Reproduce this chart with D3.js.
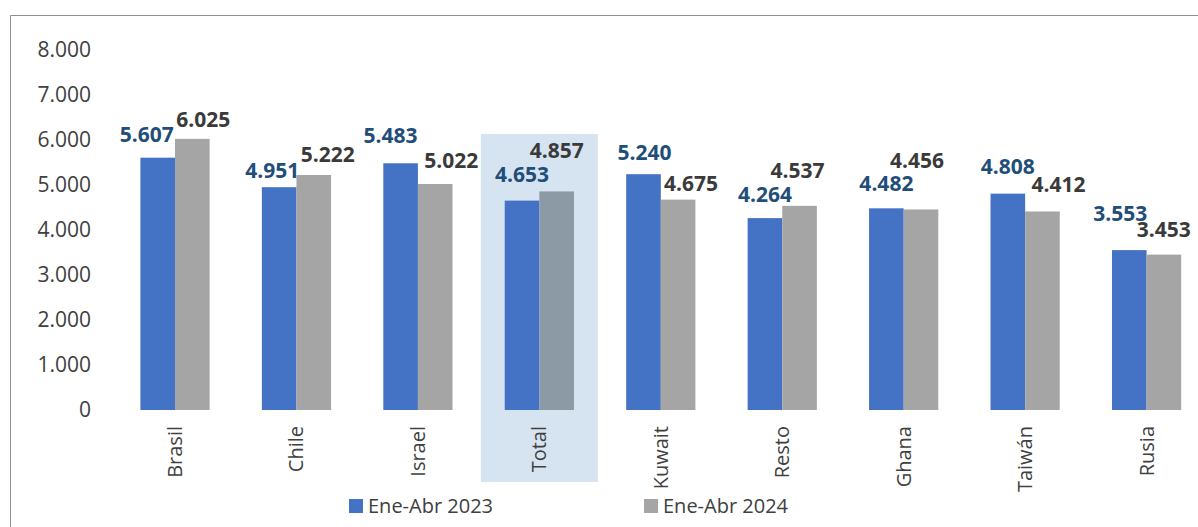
<!DOCTYPE html>
<html>
<head>
<meta charset="utf-8">
<script src="https://cdn.jsdelivr.net/npm/d3@7"></script>
<style>
  html, body { margin: 0; padding: 0; background: #fff; }
  svg { display: block; font-family: "Open Sans", sans-serif; }
</style>
</head>
<body>
<div id="chart"></div>
<script>
const categories = ['Brasil', 'Chile', 'Israel', 'Total', 'Kuwait', 'Resto', 'Ghana', 'Taiwán', 'Rusia'];
const seriesNames = ['Ene-Abr 2023', 'Ene-Abr 2024'];
const values2023 = [5607, 4951, 5483, 4653, 5240, 4264, 4482, 4808, 3553];
const values2024 = [6025, 5222, 5022, 4857, 4675, 4537, 4456, 4412, 3453];
const yTicks = [0, 1000, 2000, 3000, 4000, 5000, 6000, 7000, 8000];

// manual label nudges (dx from bar centre, dy from bar top), as placed in the original
const nudge2023 = [[-11, -23], [-7, -17], [-10, -28], [0, -26], [1, -22], [0, -24], [0, -25], [0, -27], [-9, -37]];
const nudge2024 = [[11, -19], [14, -21], [16, -24], [0, -41], [13, -16], [-2, -35], [-4, -49], [16, -27], [0, -25]];

const width = 1198, height = 527;
const highlight = 'Total';

const svg = d3.select('#chart').append('svg')
    .attr('width', width)
    .attr('height', height);

// frame (only top and left edges visible in the crop)
svg.append('line').attr('x1', 10.5).attr('x2', width).attr('y1', 15.5).attr('y2', 15.5)
    .attr('stroke', '#8f8f8f').attr('stroke-width', 1);
svg.append('line').attr('x1', 10.5).attr('x2', 10.5).attr('y1', 15.5).attr('y2', height)
    .attr('stroke', '#8f8f8f').attr('stroke-width', 1);

const x = d3.scaleBand()
    .domain(categories)
    .range([114.3, 1207.3])
    .paddingInner(0.43)
    .paddingOuter(0.215);

const xs = d3.scaleBand()
    .domain(seriesNames)
    .range([0, x.bandwidth()]);

const y = d3.scaleLinear()
    .domain([0, 8000])
    .range([410, 50]);

const locale = d3.formatLocale({ decimal: ',', thousands: '.', grouping: [3], currency: ['', ''] });
const fmt = locale.format(',d');

// highlight behind Total
const step = x.step();
svg.append('rect')
    .attr('x', x(highlight) + x.bandwidth() / 2 - step * 0.482)
    .attr('y', 134)
    .attr('width', step * 0.964)
    .attr('height', 348)
    .attr('fill', '#d6e3f0');

// y axis labels
const yAxis = svg.append('g')
    .attr('transform', 'translate(91,0)')
    .call(d3.axisLeft(y).tickValues(yTicks).tickFormat(fmt).tickSize(0).tickPadding(0));
yAxis.select('.domain').remove();
yAxis.selectAll('text')
    .attr('font-family', '"Open Sans", sans-serif')
    .attr('font-size', '21px')
    .attr('fill', '#404040');

const rows = categories.map((c, i) => ({
    cat: c,
    vals: [
        { s: seriesNames[0], v: values2023[i], nudge: nudge2023[i] },
        { s: seriesNames[1], v: values2024[i], nudge: nudge2024[i] }
    ]
}));

const colors = { 'Ene-Abr 2023': '#4472c4', 'Ene-Abr 2024': '#a5a5a5' };
const labelColors = { 'Ene-Abr 2023': '#1f4e79', 'Ene-Abr 2024': '#3a3a3a' };

const groups = svg.append('g').selectAll('g')
    .data(rows)
    .join('g')
    .attr('transform', d => `translate(${x(d.cat)},0)`);

groups.selectAll('rect')
    .data(d => d.vals.map(v => ({ ...v, cat: d.cat })))
    .join('rect')
    .attr('x', d => xs(d.s))
    .attr('y', d => y(d.v))
    .attr('width', xs.bandwidth())
    .attr('height', d => y(0) - y(d.v))
    .attr('fill', d => (d.cat === highlight && d.s === seriesNames[1]) ? '#8c9aa6' : colors[d.s]);

groups.selectAll('text.val')
    .data(d => d.vals)
    .join('text')
    .attr('class', 'val')
    .attr('x', d => xs(d.s) + xs.bandwidth() / 2 + d.nudge[0])
    .attr('y', d => y(d.v) + d.nudge[1])
    .attr('dy', '0.36em')
    .attr('text-anchor', 'middle')
    .attr('font-size', '21px')
    .attr('font-weight', 'bold')
    .attr('fill', d => labelColors[d.s])
    .text(d => fmt(d.v));

// category labels, rotated
svg.append('g').selectAll('text')
    .data(categories)
    .join('text')
    .attr('transform', d => `translate(${x(d) + x.bandwidth() / 2},426) rotate(-90)`)
    .attr('dy', '0.35em')
    .attr('text-anchor', 'end')
    .attr('font-size', '20px')
    .attr('fill', '#404040')
    .text(d => d);

// legend
const legendX = [349, 644];
const legend = svg.append('g').selectAll('g')
    .data(seriesNames)
    .join('g')
    .attr('transform', (d, i) => `translate(${legendX[i]},499)`);
legend.append('rect')
    .attr('width', 14).attr('height', 14)
    .attr('fill', d => colors[d]);
legend.append('text')
    .attr('x', 19).attr('y', 14)
    .attr('font-size', '20px')
    .attr('fill', '#404040')
    .text(d => d);
</script>
</body>
</html>
